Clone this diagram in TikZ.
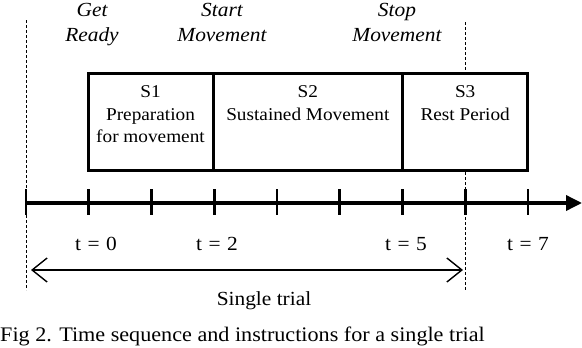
\documentclass[tikz,border=0pt]{standalone}
\usepackage{fontspec}
\setmainfont{Liberation Serif}[FakeStretch=1.07]
\usetikzlibrary{arrows.meta}
\tikzset{
  box/.style={draw, line width=3pt, fill=white, inner sep=0pt, minimum height=97pt},
  boxtext/.style={anchor=north, inner sep=0pt, align=center, font=\fontsize{18}{22.5}\selectfont},
  cue/.style={anchor=north, inner sep=0pt, align=center, font=\fontsize{20}{25}\selectfont\itshape},
  tlabel/.style={anchor=base, inner sep=0pt, font=\fontsize{20}{24}\selectfont},
  marker/.style={dashed, dash pattern=on 3pt off 2pt, line width=0.9pt},
  axis/.style={line width=3.5pt, -{Triangle[length=16pt,width=15pt]}},
  tick/.style={line width=2.6pt},
  span/.style={line width=1.4pt, {Straight Barb[length=15pt,width=24pt,line width=1.4pt]}-{Straight Barb[length=15pt,width=24pt,line width=1.4pt]}}
}
\newcommand{\tsp}{\hspace{0.32em}}
\begin{document}
\begin{tikzpicture}[x=1pt,y=-1pt]
\useasboundingbox (0,0) rectangle (582,348);
% dashed markers
\coordinate (ltop) at (26,20);
\coordinate (lbot) at (26,290);
\coordinate (rtop) at (465,22);
\coordinate (rbot) at (465,290);
\draw[marker] (ltop) -- (lbot);
\draw[marker] (rtop) -- (rbot);
% cue labels
\node[cue] (get) at (92,3) {Get\\Ready};
\node[cue] (start) at (222,3) {Start\\Movement};
\node[cue] (stop) at (397,3) {Stop\\Movement};
% state boxes
\node[box, minimum width=125pt] (s1) at (150.5,121.5) {};
\node[box, minimum width=189.7pt] (s2) at (307.85,121.5) {};
\node[box, minimum width=125pt] (s3) at (465.2,121.5) {};
\node[boxtext] (s1t) at (150.5,85.5) {S1\\Preparation\\for movement};
\node[boxtext] (s2t) at (307.85,85.5) {S2\\Sustained Movement};
\node[boxtext] (s3t) at (465.2,85.5) {S3\\Rest Period};
% time axis
\coordinate (ax0) at (26,203);
\coordinate (ax1) at (582,203);
\foreach \i in {0,...,8} {
  \draw[tick] (26+62.75*\i,189) -- (26+62.75*\i,215);
}
\draw[axis] (ax0) -- (ax1);
% time labels
\node[tlabel] (t0) at (96,250.5) {t\tsp=\tsp0};
\node[tlabel] (t2) at (217,250.5) {t\tsp=\tsp2};
\node[tlabel] (t5) at (406,250.5) {t\tsp=\tsp5};
\node[tlabel] (t7) at (528,250.5) {t\tsp=\tsp7};
% single trial span
\coordinate (al) at (31,270);
\coordinate (ar) at (463,270);
\draw[span] (al) -- (ar);
\node[tlabel] (trial) at (264,305) {Single trial};
% caption
\node[anchor=base west, inner sep=0pt, font=\fontsize{20.7}{25}\selectfont] (cap) at (0,341) {Fig 2. Time sequence and instructions for a single trial};
\end{tikzpicture}
\end{document}
